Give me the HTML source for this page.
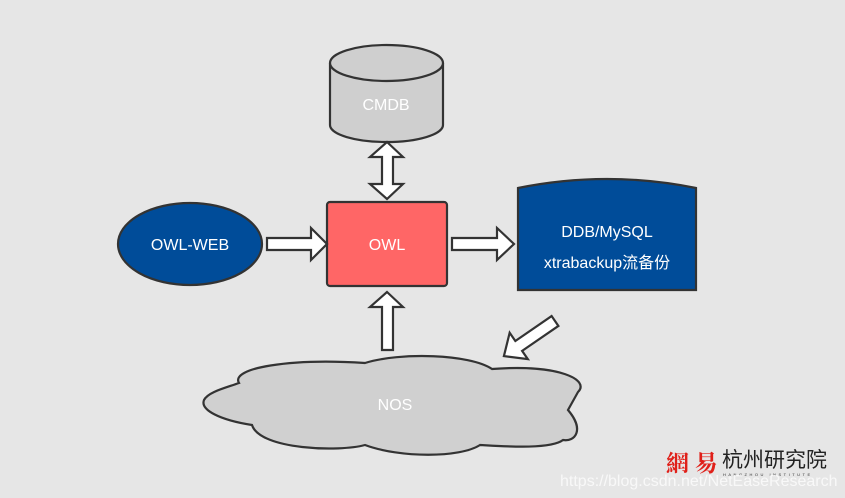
<!DOCTYPE html>
<html><head><meta charset="utf-8"><style>
html,body{margin:0;padding:0;background:#e6e6e6;}
svg{display:block}
</style></head><body>
<svg width="845" height="498" viewBox="0 0 845 498" xmlns="http://www.w3.org/2000/svg" font-family="Liberation Sans, 'Noto Sans CJK SC', sans-serif">
<rect width="845" height="498" fill="#e6e6e6"/>
<g stroke="#333" stroke-width="2.2">
<path d="M330,63 L330,125 A56.5,17 0 0 0 443,125 L443,63" fill="#cfcfcf"/>
<ellipse cx="386.5" cy="63" rx="56.5" ry="18" fill="#cfcfcf"/>
<path d="M387,142 L403,157 L393,157 L393,184 L403,184 L387,199 L370,184 L382,184 L382,157 L370,157 Z" fill="#fff"/>
<rect x="327" y="202" width="120" height="84" rx="3" fill="#ff6666"/>
<ellipse cx="190" cy="244" rx="72" ry="41" fill="#004c99"/>
<path d="M267,238 L311,238 L311,228 L327,244 L311,260 L311,250 L267,250 Z" fill="#fff"/>
<path d="M452,238 L497,238 L497,228 L514,244 L497,260 L497,250 L452,250 Z" fill="#fff"/>
<path d="M387,292 L403,307 L393,307 L393,350 L382,350 L382,307 L370,307 Z" fill="#fff"/>
<path d="M518,188 Q607,170 696,188 L696,290 L518,290 Z" fill="#004c99"/>
<g transform="translate(555,321) rotate(145.5)">
<path d="M0,-6 L44,-6 L44,-16 L62,0 L44,16 L44,6 L0,6 Z" fill="#fff"/>
</g>
<path d="M239,383 C230,368 290,358 365,363 C400,352 470,354 492,369 C560,364 590,380 578,392 L568,410 C585,430 575,442 563,440 C550,450 500,446 480,445 C460,458 400,458 365,445 C340,452 260,450 252,425 C220,420 200,410 204,400 C208,392 225,388 239,383 Z" fill="#d0d0d0"/>
</g>
<g fill="#fff" font-size="16" text-anchor="middle">
<text x="386" y="110">CMDB</text>
<text x="387" y="250">OWL</text>
<text x="190" y="250">OWL-WEB</text>
<text x="607" y="237">DDB/MySQL</text>
<text x="607" y="268">xtrabackup流备份</text>
<text x="395" y="410">NOS</text>
</g>
<text x="666" y="471" font-size="23" font-weight="bold" fill="#e0201a" font-family="'Noto Serif CJK SC',serif">網 易</text>
<text x="722" y="467" font-size="21" fill="#222" font-family="'Noto Sans CJK SC',sans-serif">杭州研究院</text>
<text x="723" y="476" font-size="4" fill="#333" letter-spacing="2.5">HANGZHOU INSTITUTE</text>
<text x="560" y="486" font-size="16" fill="#fff" opacity="0.75">https://blog.csdn.net/NetEaseResearch</text>
</svg>
</body></html>
